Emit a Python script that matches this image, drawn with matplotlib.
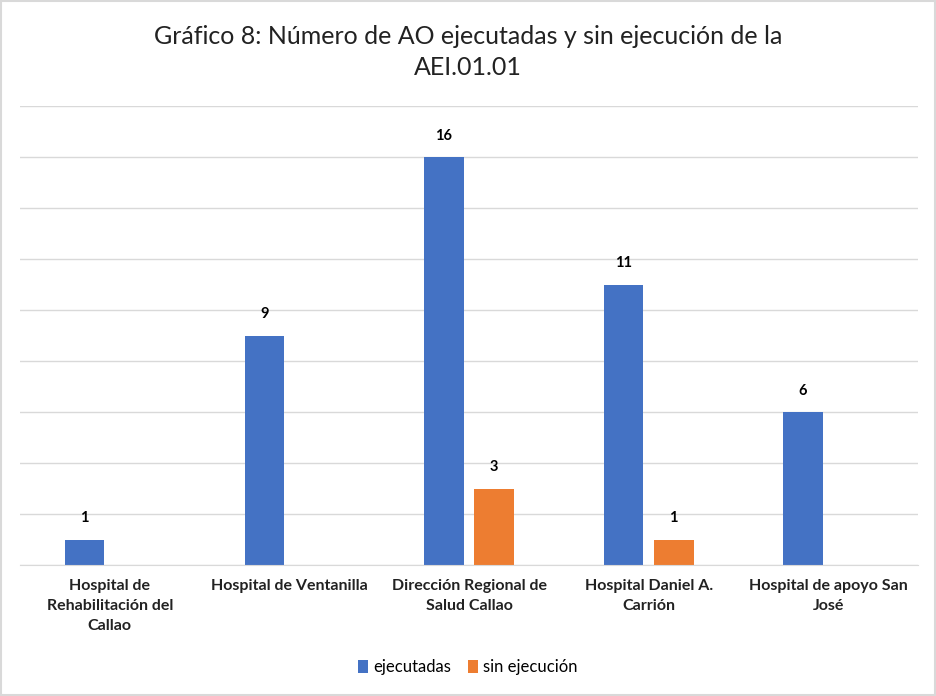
import numpy as np
import matplotlib.pyplot as plt

plt.rcParams['font.family'] = ['Lato', 'DejaVu Sans']

# Datos
categorias = ['Hospital de\nRehabilitación del\nCallao', 'Hospital de Ventanilla',
              'Dirección Regional de\nSalud Callao', 'Hospital Daniel A.\nCarrión',
              'Hospital de apoyo San\nJosé']
ejecutadas = [1, 9, 16, 11, 6]
sin_ejecucion = [0, 0, 3, 1, 0]

azul = '#4472C4'
naranja = '#ED7D31'

fig = plt.figure(figsize=(9.36, 6.96), dpi=100)
ax = fig.add_axes([20 / 936, 1 - 565 / 696, 898 / 936, 459 / 696])

x = np.arange(len(categorias))
w = 0.22
b1 = ax.bar(x - 0.14, ejecutadas, w, color=azul, label='ejecutadas')
b2 = ax.bar(x + 0.14, sin_ejecucion, w, color=naranja, label='sin ejecución')

for bars, vals in ((b1, ejecutadas), (b2, sin_ejecucion)):
    for b, v in zip(bars, vals):
        if v > 0:
            ax.text(b.get_x() + b.get_width() / 2, v + 0.55, str(v), ha='center',
                    va='bottom', fontsize=10.5, fontweight='bold', color='#000000')

ax.set_xlim(-0.5, 4.5)
ax.set_ylim(0, 18)
ax.set_yticks(np.arange(0, 19, 2))
ax.yaxis.grid(True, color='#d9d9d9', linewidth=1)
ax.set_axisbelow(True)
ax.tick_params(axis='y', left=False, labelleft=False)
ax.tick_params(axis='x', length=0, pad=10)
ax.set_xticks(x)
ax.set_xticklabels(categorias, fontsize=11.5, fontweight='bold', color='#222222',
                   linespacing=1.55)
for s in ['top', 'left', 'right']:
    ax.spines[s].set_visible(False)
ax.spines['bottom'].set_color('#d9d9d9')

fig.text(0.5, 1 - 52 / 696, 'Gráfico 8: Número de AO ejecutadas y sin ejecución de la\nAEI.01.01',
         ha='center', va='center', fontsize=18, color='#222222', linespacing=1.45)

fig.legend(handles=[b1, b2], loc='center', bbox_to_anchor=(0.5, 1 - 667 / 696), ncol=2,
           frameon=False, fontsize=12, handlelength=0.6, handleheight=0.8,
           handletextpad=0.3, columnspacing=1.0)

fig.patches.append(plt.Rectangle((0.001, 0.001), 0.998, 0.998, transform=fig.transFigure,
                                 fill=False, edgecolor='#d9d9d9', linewidth=1.5))

fig.savefig('out.png', dpi=100)
